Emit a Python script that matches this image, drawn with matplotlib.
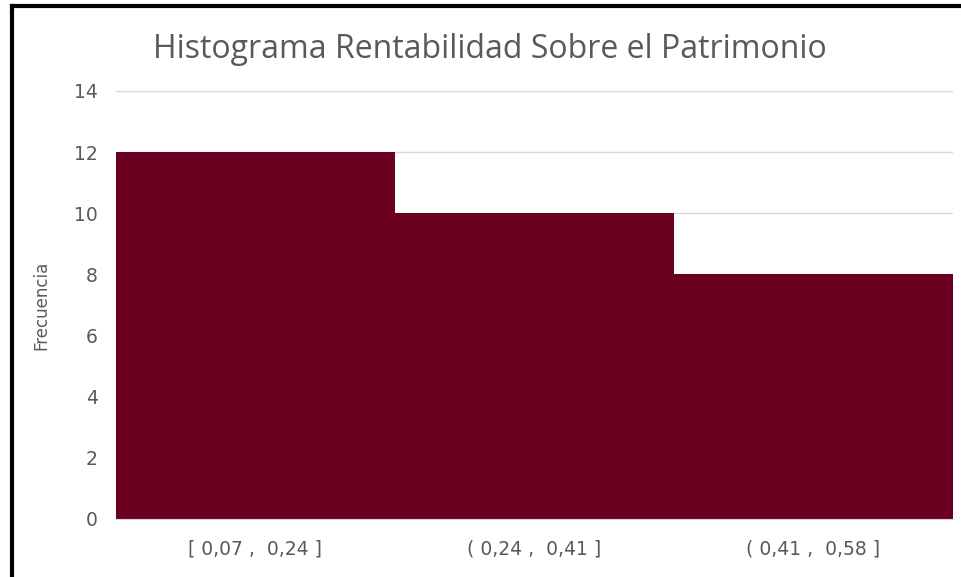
import matplotlib.pyplot as plt
import numpy as np

# histogram bins and counts
categories = ["[ 0,07 ,  0,24 ]", "( 0,24 ,  0,41 ]", "( 0,41 ,  0,58 ]"]
frecuencia = [12, 10, 8]
yticks = [0, 2, 4, 6, 8, 10, 12, 14]

bar_color = "#6B0020"
text_color = "#595959"

plt.rcParams['font.family'] = ['DejaVu Sans']

fig = plt.figure(figsize=(9.61, 5.77), dpi=100)
ax = fig.add_axes([116 / 961, 1 - 519 / 577, (953 - 116) / 961, (519 - 91) / 577])

x = np.arange(len(categories))
ax.bar(x, frecuencia, width=1.0, color=bar_color, zorder=2)

ax.set_xlim(-0.5, len(categories) - 0.5)
ax.set_ylim(0, 14)
ax.set_yticks(yticks)
ax.set_xticks(x)
ax.set_xticklabels(categories)
ax.grid(axis="y", color="#D9D9D9", linewidth=1, zorder=0)
ax.tick_params(length=0, labelsize=13.5, colors=text_color)
ax.tick_params(axis="y", pad=13)
ax.tick_params(axis="x", pad=15)
for side in ["top", "right", "left"]:
    ax.spines[side].set_visible(False)
ax.spines["bottom"].set_color("#D9D9D9")
ax.spines["bottom"].set_zorder(3)

ax.set_ylabel("Frecuencia", fontsize=12, color=text_color, labelpad=17)
fig.text(490 / 961, 1 - 50 / 577, "Histograma Rentabilidad Sobre el Patrimonio",
         ha="center", va="center", fontsize=23, color=text_color,
         family=['Open Sans', 'DejaVu Sans'])

# black frame lines on left and top edge
fig.add_artist(plt.Line2D([11.5 / 961, 11.5 / 961], [0, 1 - 6 / 577], color="black", linewidth=3))
fig.add_artist(plt.Line2D([11.5 / 961, 1], [1 - 6 / 577, 1 - 6 / 577], color="black", linewidth=3))

fig.savefig("out.png", dpi=100)
